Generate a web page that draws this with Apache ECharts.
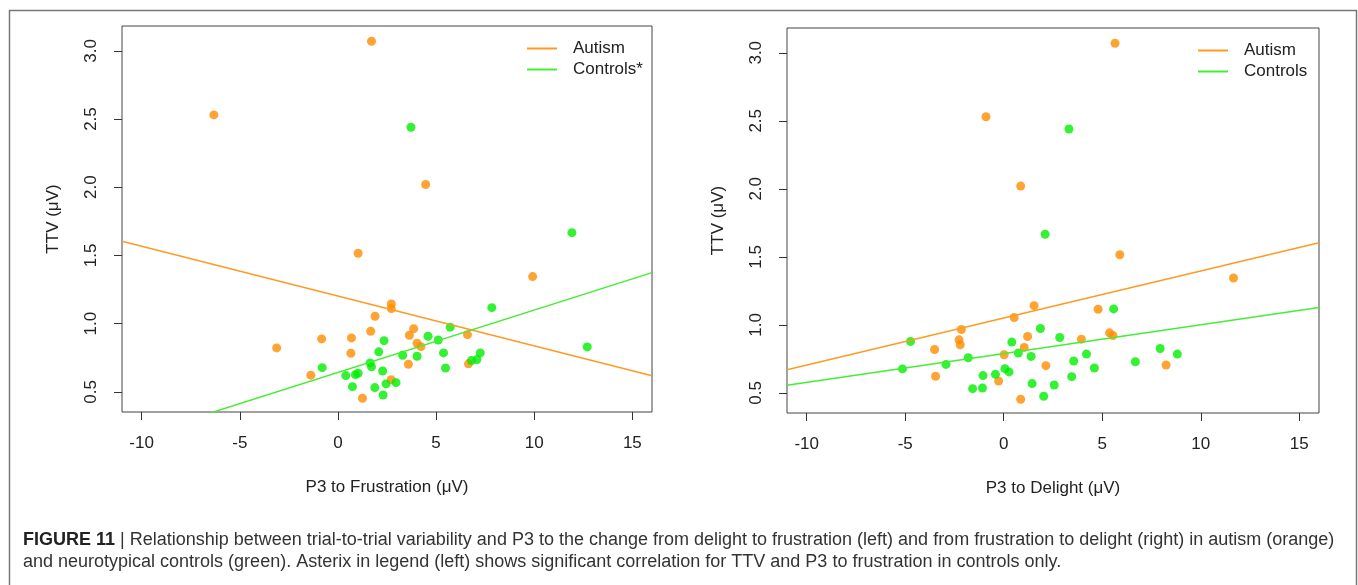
<!DOCTYPE html>
<html>
<head>
<meta charset="utf-8">
<script src="https://cdn.jsdelivr.net/npm/echarts@6/dist/echarts.min.js"></script>
<style>
  html, body { margin: 0; padding: 0; background: #fff; }
  #main { width: 1358px; height: 585px; }
</style>
</head>
<body>
<div id="main"></div>
<script>
// TTV for each subject (same people in both panels)
var autismFrustX = [1.71, -6.32, 4.47, 1.03, 9.92, 2.72, 2.72, 1.89, 3.86, 1.67, 3.64, 6.60, -0.83, 0.69, 4.03, 4.23, -3.12, 0.66, 6.65, 3.59, -1.38, 2.71, 1.25];
var autismFrustY = [3.07, 2.53, 2.02, 1.516, 1.345, 1.144, 1.11, 1.054, 0.963, 0.944, 0.915, 0.919, 0.888, 0.895, 0.856, 0.831, 0.822, 0.783, 0.705, 0.702, 0.622, 0.589, 0.453];
var controlFrustX = [3.72, 11.92, 7.84, 5.72, 4.59, 5.11, 2.35, 12.70, 2.08, 3.30, 4.03, 5.38, 7.25, 7.08, 6.80, 1.64, 1.71, 5.48, -0.80, 2.28, 0.40, 0.89, 1.03, 2.45, 2.96, 0.74, 1.88, 2.30];
var controlFrustY = [2.44, 1.667, 1.117, 0.974, 0.907, 0.880, 0.875, 0.829, 0.793, 0.768, 0.761, 0.785, 0.785, 0.736, 0.729, 0.712, 0.683, 0.675, 0.677, 0.653, 0.619, 0.626, 0.636, 0.558, 0.567, 0.538, 0.531, 0.477];

var autismDelightX = [5.65, -0.90, 0.86, 5.89, 11.66, 1.54, 4.79, 0.53, -2.15, -2.27, -2.21, -3.51, 1.21, 1.04, 3.94, 5.37, 5.54, 0.02, 2.14, 8.24, -3.46, -0.26, 0.86];
var autismDelightY = [3.07, 2.53, 2.02, 1.515, 1.344, 1.141, 1.115, 1.054, 0.966, 0.890, 0.854, 0.819, 0.914, 0.834, 0.895, 0.941, 0.922, 0.780, 0.700, 0.705, 0.622, 0.587, 0.453];
var controlDelightX = [3.31, 2.10, 5.58, 1.86, -4.73, 0.41, 2.84, 0.74, 1.39, -1.80, -2.93, -5.14, 4.20, 3.55, 7.94, 8.81, 6.68, 4.60, 0.06, 0.27, -1.05, -0.42, 3.45, 1.44, 2.56, -1.58, -1.08, 2.03];
var controlDelightY = [2.44, 1.666, 1.117, 0.973, 0.878, 0.873, 0.907, 0.793, 0.768, 0.758, 0.709, 0.676, 0.785, 0.734, 0.826, 0.785, 0.729, 0.683, 0.678, 0.654, 0.627, 0.636, 0.619, 0.568, 0.558, 0.531, 0.536, 0.475];

// regression lines, read at the plot edges
var fitX = [-11, 16];
var autismFrustFit = [1.604, 0.618];
var controlFrustFit = [0.139, 1.374];
var autismDelightFit = [0.670, 1.604];
var controlDelightFit = [0.556, 1.127];

var xTicks = [-10, -5, 0, 5, 10, 15];
var yTicks = [0.5, 1.0, 1.5, 2.0, 2.5, 3.0];

var ORANGE = '#FF8C00', GREEN = '#00EE00';
var FONT = '"Liberation Sans", Arial, sans-serif';

function pairs(xs, ys) {
  return xs.map(function (x, i) { return [x, ys[i]]; });
}

function xAxisCfg(idx, name) {
  return {
    type: 'value', gridIndex: idx, min: -11, max: 16,
    name: name, nameLocation: 'middle', nameGap: 67,
    nameTextStyle: { fontFamily: FONT, fontSize: 17, color: '#222' },
    axisLine: { show: false, onZero: false },
    splitLine: { show: false },
    axisTick: { show: true, length: 8, lineStyle: { color: '#333' }, customValues: xTicks },
    axisLabel: { fontFamily: FONT, fontSize: 17, color: '#222', margin: 23, customValues: xTicks }
  };
}

function yAxisCfg(idx) {
  return {
    type: 'value', gridIndex: idx, min: 0.352, max: 3.182,
    name: 'TTV (μV)', nameLocation: 'middle', nameGap: 60,
    nameTextStyle: { fontFamily: FONT, fontSize: 17, color: '#222' },
    axisLine: { show: false, onZero: false },
    splitLine: { show: false },
    axisTick: { show: true, length: 8, lineStyle: { color: '#333' }, customValues: yTicks },
    axisLabel: {
      fontFamily: FONT, fontSize: 17, color: '#222', margin: 22, rotate: 90,
      customValues: yTicks,
      formatter: function (v) { return v.toFixed(1); }
    }
  };
}

function scatter(name, idx, data, color) {
  return {
    name: name, type: 'scatter', xAxisIndex: idx, yAxisIndex: idx,
    symbolSize: 9, itemStyle: { color: color }, data: data, z: 3
  };
}

function fitLine(name, idx, ys, color) {
  return {
    name: name, type: 'line', xAxisIndex: idx, yAxisIndex: idx,
    symbol: 'none', clip: true, z: 4,
    lineStyle: { color: color, width: 1.5 }, itemStyle: { color: color },
    data: pairs(fitX, ys)
  };
}

function legendCfg(names, left, top) {
  return {
    data: names, orient: 'vertical', left: left, top: top, padding: 0,
    icon: 'rect', itemWidth: 30, itemHeight: 2, itemGap: 4,
    formatter: function (n) { return n.trim(); },
    textStyle: { fontFamily: FONT, fontSize: 17, color: '#222', padding: [0, 0, 0, 11] }
  };
}

var chart = echarts.init(document.getElementById('main'));
chart.setOption({
  animation: false,
  backgroundColor: '#fff',
  grid: [
    { left: 122, top: 26, width: 530, height: 386, show: true, borderColor: '#444', borderWidth: 1 },
    { left: 787, top: 28, width: 532, height: 385, show: true, borderColor: '#444', borderWidth: 1 }
  ],
  xAxis: [xAxisCfg(0, 'P3 to Frustration (μV)'), xAxisCfg(1, 'P3 to Delight (μV)')],
  yAxis: [yAxisCfg(0), yAxisCfg(1)],
  legend: [
    legendCfg(['Autism', 'Controls*'], 527, 40),
    legendCfg(['Autism ', 'Controls'], 1198, 42)
  ],
  series: [
    scatter('autism pts L', 0, pairs(autismFrustX, autismFrustY), ORANGE),
    scatter('control pts L', 0, pairs(controlFrustX, controlFrustY), GREEN),
    fitLine('Autism', 0, autismFrustFit, '#FF9A22'),
    fitLine('Controls*', 0, controlFrustFit, '#44EE33'),
    scatter('autism pts R', 1, pairs(autismDelightX, autismDelightY), ORANGE),
    scatter('control pts R', 1, pairs(controlDelightX, controlDelightY), GREEN),
    fitLine('Autism ', 1, autismDelightFit, '#FF9A22'),
    fitLine('Controls', 1, controlDelightFit, '#44EE33')
  ],
  graphic: [
    {
      type: 'rect', left: 7, top: 8, silent: true,
      shape: { width: 1347, height: 600 },
      style: { fill: 'none', stroke: '#777', lineWidth: 1.5 }
    },
    {
      type: 'text', left: 23, top: 529,
      style: {
        text: '{b|FIGURE 11} | Relationship between trial-to-trial variability and P3 to the change from delight to frustration (left) and from frustration to delight (right) in autism (orange)\n' +
              'and neurotypical controls (green). Asterix in legend (left) shows significant correlation for TTV and P3 to frustration in controls only.',
        fontFamily: FONT, fontSize: 18, lineHeight: 22, fill: '#333',
        rich: { b: { fontFamily: FONT, fontSize: 18, fontWeight: 'bold', fill: '#222', lineHeight: 22 } }
      }
    }
  ]
});

window.addEventListener('resize', function () {
  chart.resize();
});
</script>
</body>
</html>
